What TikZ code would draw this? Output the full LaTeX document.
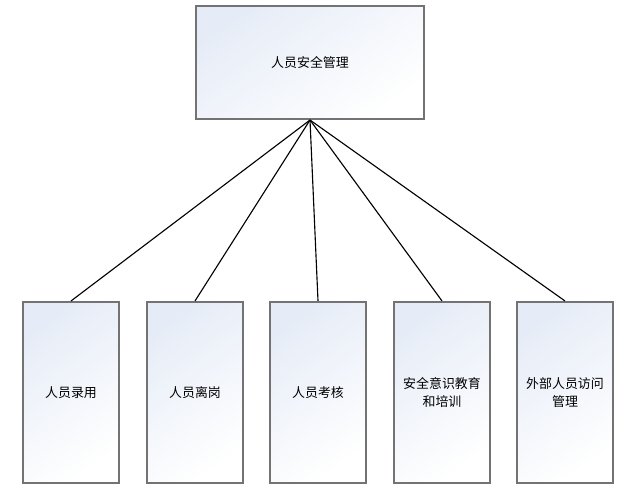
\documentclass[tikz,border=0pt]{standalone}
\usepackage{fontspec}
\setmainfont{Noto Sans CJK SC}
\definecolor{boxtint}{RGB}{230,236,247}
\begin{document}
\begin{tikzpicture}[x=0.025cm, y=-0.025cm, font=\fontsize{9.2pt}{12.6pt}\selectfont,
    box/.style={draw=black!55, line width=1.3pt, shading=axis, top color=boxtint,
        bottom color=white, shading angle=35, align=center, inner sep=0pt},
    big/.style={box, minimum width=5.7cm, minimum height=2.83cm},
    small/.style={box, minimum width=2.38cm, minimum height=4.53cm, text width=2.3cm},
    link/.style={line width=0.8pt}]

    \useasboundingbox (0,0) rectangle (638,488);

    % --- Nodo principale ---
    \node[big] (top) at (310, 62.5) {人员安全管理};

    % --- Nodi inferiori ---
    \node[small] (lu) at (71, 392.5) {人员录用};
    \node[small] (lg) at (195, 392.5) {人员离岗};
    \node[small] (kh) at (318, 392.5) {人员考核};
    \node[small] (px) at (442, 392.5) {安全意识教育\\和培训};
    \node[small] (fw) at (565, 392.5) {外部人员访问\\管理};

    % --- Collegamenti ---
    \foreach \n in {lu, lg, kh, px, fw}
        \draw[link] (top.south) -- (\n.north);

\end{tikzpicture}
\end{document}
